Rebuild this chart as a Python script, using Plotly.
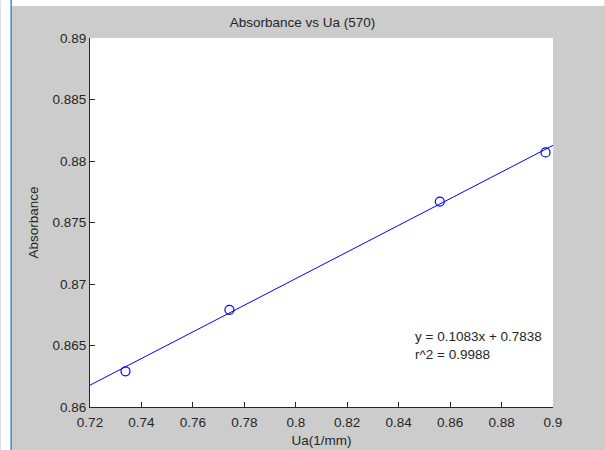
import plotly.graph_objects as go

# Data
ua = [0.7338, 0.7742, 0.8560, 0.8971]
absorbance = [0.8629, 0.8679, 0.8767, 0.8807]
fit_slope = 0.1083
fit_intercept = 0.7838
r_squared = 0.9988

x_ticks = [0.72, 0.74, 0.76, 0.78, 0.80, 0.82, 0.84, 0.86, 0.88, 0.90]
x_tick_labels = ["0.72", "0.74", "0.76", "0.78", "0.8", "0.82", "0.84", "0.86", "0.88", "0.9"]
y_ticks = [0.86, 0.865, 0.87, 0.875, 0.88, 0.885, 0.89]
y_tick_labels = ["0.86", "0.865", "0.87", "0.875", "0.88", "0.885", "0.89"]

x_range = [0.72, 0.90]
y_range = [0.86, 0.89]

fit_x = x_range
fit_y = [fit_slope * v + fit_intercept for v in fit_x]

FONT = "Liberation Sans, Arial, sans-serif"
TXT = "#262626"
FS = 13.5

fig = go.Figure()
fig.add_trace(go.Scatter(x=fit_x, y=fit_y, mode="lines",
                         line=dict(color="#0000ff", width=1), showlegend=False,
                         cliponaxis=True))
fig.add_trace(go.Scatter(x=ua, y=absorbance, mode="markers",
                         marker=dict(symbol="circle-open", size=9, color="#0000ff",
                                     line=dict(width=1.2, color="#0000ff")),
                         showlegend=False, cliponaxis=False))

fig.add_annotation(x=0.8455, y=0.86504, xref="x", yref="y",
                   text=f"y = {fit_slope:.4f}x + {fit_intercept:.4f}<br>r^2 = {r_squared:.4f}",
                   showarrow=False, xanchor="left", yanchor="middle", align="left",
                   font=dict(family=FONT, size=FS, color=TXT))

# screenshot frame: white strips and blue window border
L, R, T, B = 89.5, 51.5, 38, 43
W, H = 605, 450
pw, ph = W - L - R, H - T - B
def px(x):
    return (x - L) / pw
def py(y):
    return (H - B - y) / ph

fig.add_shape(type="rect", xref="paper", yref="paper",
              x0=px(0), x1=px(W), y0=py(6), y1=py(0),
              fillcolor="white", line=dict(width=0), layer="below")
fig.add_shape(type="rect", xref="paper", yref="paper",
              x0=px(0), x1=px(10), y0=py(H), y1=py(0),
              fillcolor="white", line=dict(width=0), layer="below")
fig.add_shape(type="line", xref="paper", yref="paper",
              x0=px(10.5), x1=px(10.5), y0=py(H), y1=py(0),
              line=dict(color="#3c8fe4", width=1.5), layer="below")

fig.update_layout(
    width=W, height=H,
    margin=dict(l=L, r=R, t=T, b=B, pad=0, autoexpand=False),
    paper_bgcolor="#cccccc",
    plot_bgcolor="white",
    font=dict(family=FONT, size=FS, color=TXT),
    title=dict(text="Absorbance vs Ua (570)", x=px(321.5), xanchor="center",
               y=1 - 22 / H, yanchor="middle", font=dict(family=FONT, size=FS, color=TXT)),
    xaxis=dict(range=x_range, tickvals=x_ticks, ticktext=x_tick_labels,
               ticks="inside", ticklen=5, tickcolor="#262626", tickwidth=1,
               showline=True, linecolor="#262626", linewidth=1,
               showgrid=False, zeroline=False, mirror=False, automargin=False,
               ticklabelstandoff=3,
               title=dict(text="Ua(1/mm)", standoff=6, font=dict(family=FONT, size=FS, color=TXT)),
               tickfont=dict(family=FONT, size=FS, color=TXT)),
    yaxis=dict(range=y_range, tickvals=y_ticks, ticktext=y_tick_labels,
               ticks="inside", ticklen=5, tickcolor="#262626", tickwidth=1,
               showline=True, linecolor="#262626", linewidth=1,
               showgrid=False, zeroline=False, mirror=False, automargin=False,
               title=dict(text="Absorbance", standoff=10, font=dict(family=FONT, size=FS, color=TXT)),
               tickfont=dict(family=FONT, size=FS, color=TXT)),
)

fig.write_html("out.html")
